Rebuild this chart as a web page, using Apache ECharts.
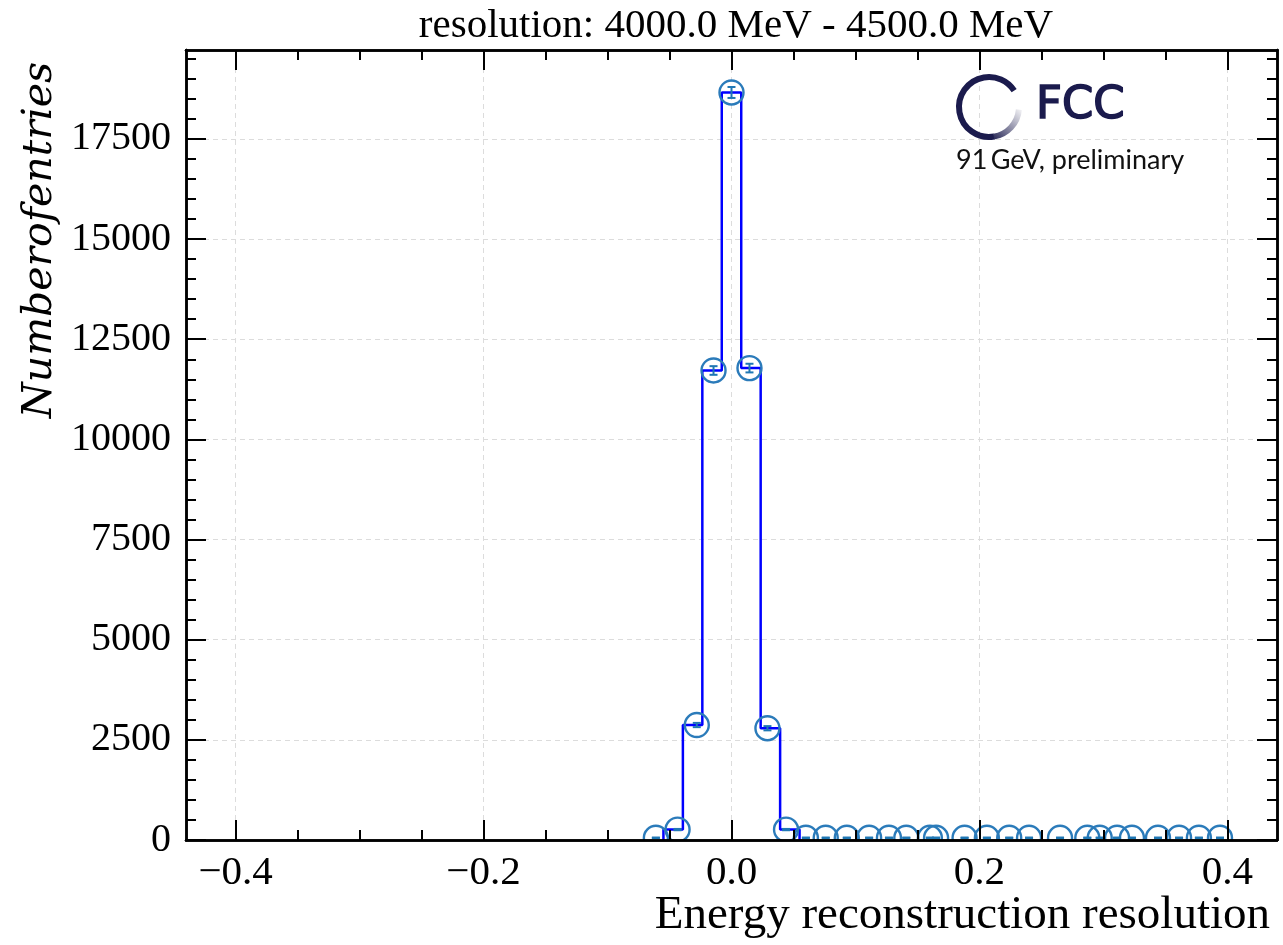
<!DOCTYPE html>
<html>
<head>
<meta charset="utf-8">
<script src="https://cdn.jsdelivr.net/npm/echarts@6/dist/echarts.min.js"></script>
<style>
html,body{margin:0;padding:0;background:#fff;}
#chart{width:1283px;height:945px;}
</style>
</head>
<body>
<div id="chart"></div>
<script>
// ---- data ----
const histLow = -0.4;
const histHigh = 0.4;
const binCounts = [
  0,0,0,0,0,0,0,0,0,0,
  0,0,0,0,0,0,0,0,0,0,
  0,0,260,2870,11720,18660,11780,2790,260,0,
  0,0,0,0,0,0,0,0,0,0,
  0,0,0,0,0,0,0,0,0,0,
  0
];
const markerX = [-0.061,-0.0435,-0.028,-0.0145,0.0,0.0145,0.029,0.044,
  0.060,0.076,0.093,0.111,0.127,0.141,0.160,0.165,0.188,0.206,0.224,0.240,
  0.265,0.287,0.297,0.311,0.323,0.344,0.361,0.377,0.394];
const markerY = [55,260,2870,11720,18660,11780,2790,260,
  55,55,55,55,55,55,55,55,55,55,55,55,
  55,55,55,55,55,55,55,55,55];
const markerErr = [7,16,53,108,137,108,53,16,
  7,7,7,7,7,7,7,7,7,7,7,7,
  7,7,7,7,7,7,7,7,7];
const xMajorTicks = [-0.4,-0.2,0.0,0.2,0.4];
const xMinorTicks = [-0.4,-0.35,-0.3,-0.25,-0.2,-0.15,-0.1,-0.05,0,0.05,0.1,0.15,0.2,0.25,0.3,0.35,0.4];
const yMajorTicks = [0,2500,5000,7500,10000,12500,15000,17500];
const yMinorTicks = [0,500,1000,1500,2000,2500,3000,3500,4000,4500,5000,5500,6000,6500,7000,7500,8000,8500,9000,9500,10000,10500,11000,11500,12000,12500,13000,13500,14000,14500,15000,15500,16000,16500,17000,17500,18000,18500,19000,19500];
const xRange = [-0.44, 0.44];
const yRange = [0, 19720];
const titleText = 'resolution: 4000.0 MeV - 4500.0 MeV';
const xTitle = 'Energy reconstruction resolution';
const yTitle = 'Numberofentries';

// ---- build ----
const nBins = binCounts.length;
const binW = (histHigh - histLow) / nBins;
let firstNZ = binCounts.findIndex(c => c > 0);
let lastNZ = nBins - 1;
while (lastNZ > 0 && binCounts[lastNZ] === 0) lastNZ--;
const stepData = [[histLow + firstNZ * binW, 0]];
for (let i = firstNZ; i <= lastNZ; i++) stepData.push([histLow + i * binW, binCounts[i]]);
stepData.push([histLow + (lastNZ + 1) * binW, 0]);

const serif = '"Liberation Serif", "DejaVu Serif", serif';
const fmtX = v => {
  const s = Math.abs(v).toFixed(1);
  return v < -1e-9 ? '\u2212' + s : s;
};
const fmtY = v => String(Math.round(v));

function mkX(pos, ticks, len, labels, split, z) {
  return {
    type: 'value', position: pos, min: xRange[0], max: xRange[1], z: z,
    axisLine: {show: true, onZero: false, lineStyle: {color: '#000', width: 2.5}},
    axisTick: {show: true, inside: true, length: len, customValues: ticks, lineStyle: {color: '#000', width: 2}},
    axisLabel: labels ? {show: true, customValues: ticks, formatter: fmtX, fontFamily: serif, fontSize: 41, color: '#000', margin: 13} : {show: false},
    splitLine: split ? {show: true, lineStyle: {type: [5, 4], color: '#dcdcdc', width: 1}} : {show: false}
  };
}
function mkY(pos, ticks, len, labels, split) {
  return {
    type: 'value', position: pos, min: yRange[0], max: yRange[1],
    axisLine: {show: true, onZero: false, lineStyle: {color: '#000', width: 2.5}},
    axisTick: {show: true, inside: true, length: len, customValues: ticks, lineStyle: {color: '#000', width: 2}},
    axisLabel: labels ? {show: true, customValues: ticks, formatter: fmtY, fontFamily: serif, fontSize: 40, color: '#000', margin: 15} : {show: false},
    splitLine: split ? {show: true, lineStyle: {type: [5, 4], color: '#dcdcdc', width: 1}} : {show: false}
  };
}

const chart = echarts.init(document.getElementById('chart'), null, {renderer: 'canvas'});
const navy = '#1b1b4d';
const cx = 989, cy = 107, r = 30;
const deg = Math.PI / 180;

chart.setOption({
  animation: false,
  backgroundColor: '#fff',
  title: {
    text: titleText, left: 731, top: 1, textAlign: 'center',
    textStyle: {fontFamily: serif, fontSize: 41, fontWeight: 'normal', color: '#000'}
  },
  grid: {left: 186, right: 6, top: 50, bottom: 105, containLabel: false},
  xAxis: [
    mkX('bottom', xMajorTicks, 20, true, false, 10),
    mkX('bottom', xMinorTicks, 10, false, false, 10),
    mkX('top', xMajorTicks, 20, false, true, 0),
    mkX('top', xMinorTicks, 10, false, false, 0)
  ],
  yAxis: [
    mkY('left', yMajorTicks, 20, true, true),
    mkY('left', yMinorTicks, 10, false, false),
    mkY('right', yMajorTicks, 20, false, false),
    mkY('right', yMinorTicks, 10, false, false)
  ],
  series: [
    {
      type: 'line', xAxisIndex: 0, yAxisIndex: 0, step: 'end', data: stepData,
      symbol: 'none', lineStyle: {color: '#0000ff', width: 2.5}, z: 3
    },
    {
      type: 'custom', xAxisIndex: 0, yAxisIndex: 0, clip: true, z: 4,
      data: markerX.map((x, i) => [x, markerY[i], markerErr[i]]),
      encode: {x: 0, y: 1},
      renderItem: function (params, api) {
        const p = api.coord([api.value(0), api.value(1)]);
        return {type: 'circle', shape: {cx: p[0], cy: p[1], r: 12},
          style: {fill: null, stroke: '#2b7bba', lineWidth: 2.4}};
      }
    },
    {
      type: 'custom', xAxisIndex: 0, yAxisIndex: 0, clip: true, z: 5,
      data: markerX.map((x, i) => [x, markerY[i], markerErr[i]]),
      encode: {x: 0, y: 1},
      renderItem: function (params, api) {
        const x = api.value(0), y = api.value(1), e = api.value(2);
        const lo = api.coord([x, y - e]);
        const hi = api.coord([x, y + e]);
        const st = {stroke: '#1f77b4', lineWidth: 2};
        return {type: 'group', children: [
          {type: 'line', shape: {x1: lo[0], y1: lo[1], x2: hi[0], y2: hi[1]}, style: st},
          {type: 'line', shape: {x1: lo[0] - 4, y1: lo[1], x2: lo[0] + 4, y2: lo[1]}, style: st},
          {type: 'line', shape: {x1: hi[0] - 4, y1: hi[1], x2: hi[0] + 4, y2: hi[1]}, style: st}
        ]};
      }
    }
  ],
  graphic: [
    {type: 'text', x: 40, y: 240, rotation: Math.PI / 2,
      style: {text: yTitle, font: 'italic 41px "DejaVu Serif", serif', fill: '#000', align: 'center', verticalAlign: 'middle'}},
    {type: 'text', x: 1270, y: 916,
      style: {text: xTitle, font: '47px ' + serif, fill: '#000', align: 'right', verticalAlign: 'middle'}},
    {type: 'arc', shape: {cx: cx, cy: cy, r: r, startAngle: 80 * deg, endAngle: 327 * deg, clockwise: true},
      style: {fill: null, stroke: navy, lineWidth: 6}, z: 10},
    {type: 'arc', shape: {cx: cx, cy: cy, r: r, startAngle: 5 * deg, endAngle: 81 * deg, clockwise: true},
      style: {fill: null, lineWidth: 6, stroke: {type: 'linear', x: 0, y: 1, x2: 1, y2: 0,
        colorStops: [{offset: 0, color: navy}, {offset: 1, color: 'rgba(255,255,255,0.9)'}]}}, z: 10},
    {type: 'text', x: 1036, y: 106,
      style: {text: 'FCC', font: '45px "DejaVu Sans", sans-serif', fill: navy, stroke: navy, lineWidth: 1.6, align: 'left', verticalAlign: 'middle'}, z: 10},
    {type: 'text', x: 956, y: 160,
      style: {text: '91\u2009GeV, preliminary', font: '27px Lato, "Noto Sans", sans-serif', fill: '#111', align: 'left', verticalAlign: 'middle'}, z: 10}
  ]
});
</script>
</body>
</html>
